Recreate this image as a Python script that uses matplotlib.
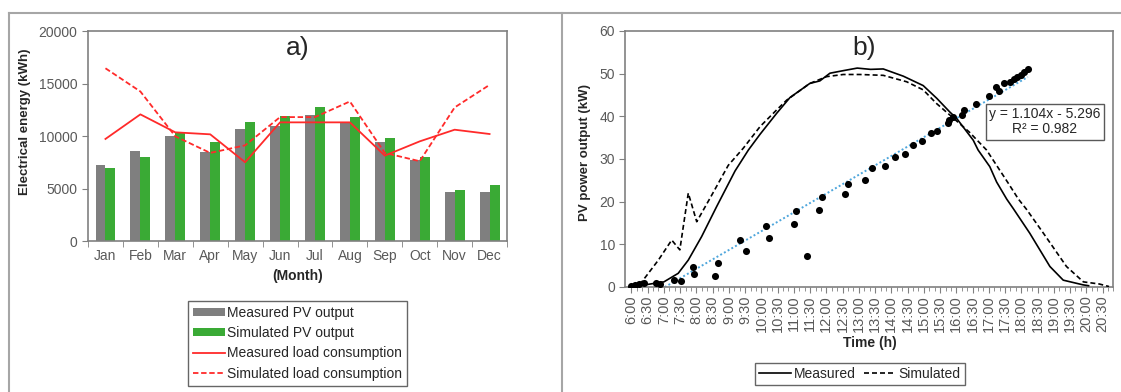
import numpy as np
import matplotlib
matplotlib.use("Agg")
import matplotlib.pyplot as plt
from matplotlib.lines import Line2D
from matplotlib.patches import Patch

plt.rcParams['font.family'] = ['Liberation Sans', 'DejaVu Sans']

# ---- panel a) monthly energy ----
months = ["Jan", "Feb", "Mar", "Apr", "May", "Jun", "Jul", "Aug", "Sep", "Oct", "Nov", "Dec"]
measured_pv = [7280, 8550, 9970, 8450, 10670, 11000, 12030, 11230, 9400, 7750, 4680, 4650]
simulated_pv = [6960, 8010, 10290, 9400, 11330, 11870, 12750, 11770, 9780, 8010, 4810, 5290]
measured_load = [9720, 12060, 10350, 10160, 7500, 11300, 11300, 11300, 8130, 9490, 10600, 10190]
simulated_load = [16450, 14240, 9970, 8390, 9110, 11800, 11800, 13290, 8390, 7600, 12720, 14870]

# ---- panel b) daily PV power ----
meas_t = [6.00, 6.50, 7.00, 7.44, 7.75, 8.16, 8.62, 9.19, 9.60, 9.96, 10.47, 10.88, 11.49,
          11.80, 12.11, 12.52, 12.95, 13.36, 13.75, 14.37, 14.98, 15.40, 15.80, 16.01, 16.52,
          16.67, 17.03, 17.24, 17.55, 17.75, 18.26, 18.88, 19.29, 19.90, 20.07]
meas_kw = [0.5, 0.6, 1.2, 3.2, 6.3, 11.8, 18.8, 27.2, 32.1, 35.8, 40.7, 44.4, 47.7,
           48.3, 50.1, 50.7, 51.3, 51.0, 51.1, 49.4, 47.2, 44.2, 41.0, 39.5, 34.4,
           32.1, 28.2, 24.6, 20.6, 18.4, 12.6, 4.8, 1.6, 0.5, 0.3]
sim_t = [6.00, 6.32, 6.83, 7.24, 7.49, 7.75, 8.01, 8.47, 8.98, 9.44, 9.96, 10.47, 10.78,
         11.49, 12.01, 12.52, 13.03, 13.75, 14.47, 14.98, 15.39, 15.80, 16.40, 16.93, 17.60,
         17.91, 18.16, 18.68, 19.39, 19.91, 20.40, 20.70]
sim_kw = [0.0, 1.2, 6.3, 11.0, 8.7, 22.0, 15.3, 21.5, 28.5, 32.5, 37.6, 41.5, 43.8,
          47.7, 49.3, 49.8, 49.8, 49.6, 48.1, 46.2, 43.0, 40.3, 36.3, 32.1, 24.3,
          20.6, 18.2, 12.6, 4.8, 1.2, 0.7, 0.1]
pts_t = [6.00, 6.11, 6.22, 6.39, 6.77, 6.88, 7.32, 7.54, 7.89, 7.94, 8.56, 8.67, 9.35, 9.52,
         10.15, 10.23, 11.00, 11.06, 11.39, 11.77, 11.88, 12.56, 12.68, 13.20, 13.39, 13.80,
         14.10, 14.41, 14.68, 14.94, 15.23, 15.40, 15.73, 15.78, 15.89, 16.17, 16.25, 16.60,
         16.99, 17.21, 17.32, 17.48, 17.65, 17.76, 17.87, 17.98, 18.09, 18.20]
pts_kw = [0.2, 0.5, 0.8, 0.9, 0.9, 0.8, 1.7, 1.3, 4.6, 3.1, 2.5, 5.6, 10.9, 8.4,
          14.4, 11.4, 14.8, 17.7, 7.3, 18.1, 21.1, 21.8, 24.2, 25.1, 27.8, 28.4,
          30.4, 31.1, 33.2, 34.2, 36.0, 36.6, 38.4, 39.2, 39.9, 40.3, 41.5, 42.9,
          44.8, 46.8, 46.0, 47.7, 48.1, 48.8, 49.2, 49.7, 50.5, 51.0]
time_ticks = [6.0, 6.5, 7.0, 7.5, 8.0, 8.5, 9.0, 9.5, 10.0, 10.5, 11.0, 11.5, 12.0, 12.5, 13.0,
              13.5, 14.0, 14.5, 15.0, 15.5, 16.0, 16.5, 17.0, 17.5, 18.0, 18.5, 19.0, 19.5,
              20.0, 20.5]
time_labels = ["6:00", "6:30", "7:00", "7:30", "8:00", "8:30", "9:00", "9:30", "10:00", "10:30",
               "11:00", "11:30", "12:00", "12:30", "13:00", "13:30", "14:00", "14:30", "15:00",
               "15:30", "16:00", "16:30", "17:00", "17:30", "18:00", "18:30", "19:00", "19:30",
               "20:00", "20:30"]

GRAY_TXT = '#595959'
SPINE = '#808080'
RED = '#ff2a2a'

fig = plt.figure(figsize=(11.21, 3.92), dpi=100)

# panel frame lines
frame_kw = dict(color='#a6a6a6', lw=1.5, transform=fig.transFigure)
fig.add_artist(Line2D([0.008, 1.0], [0.967, 0.967], **frame_kw))
fig.add_artist(Line2D([0.008, 0.008], [0.0, 0.967], **frame_kw))
fig.add_artist(Line2D([0.5013, 0.5013], [0.0, 0.967], **frame_kw))


def style_axes(ax):
    for s in ax.spines.values():
        s.set_color(SPINE)
        s.set_linewidth(1.2)
    ax.tick_params(colors=SPINE, labelcolor=GRAY_TXT, labelsize=10, direction='out', length=4)


# ---- a) ----
ax1 = fig.add_axes([0.0785, 0.3852, 0.3738, 0.5357])
style_axes(ax1)
x = np.arange(len(months))
w = 0.285
ax1.bar(x - w / 2, measured_pv, width=w, color='#7f7f7f', zorder=2)
ax1.bar(x + w / 2, simulated_pv, width=w, color='#3aaa35', zorder=2)
ax1.plot(x, measured_load, color=RED, lw=1.3, zorder=3)
ax1.plot(x, simulated_load, color=RED, lw=1.3, dashes=(3, 1.5), zorder=3)
ax1.set_xlim(-0.5, len(months) - 0.5)
ax1.set_ylim(0, 20000)
ax1.set_yticks([0, 5000, 10000, 15000, 20000])
ax1.set_xticks(x)
ax1.set_xticklabels(months)
ax1.tick_params(axis='x', length=0, pad=6)
ax1.set_xticks(np.arange(-0.5, len(months), 1), minor=True)
ax1.tick_params(axis='x', which='minor', length=4, color=SPINE)
ax1.set_ylabel('Electrical energy (kWh)', fontsize=9.5, fontweight='bold', color='#262626')
ax1.yaxis.set_label_coords(-0.136, 0.57)
ax1.set_xlabel('(Month)', fontsize=10, fontweight='bold', color='#262626', labelpad=4)
ax1.text(0.5, 0.92, 'a)', transform=ax1.transAxes, fontsize=19, ha='center', va='center',
         color='#262626')

handles1 = [Patch(facecolor='#7f7f7f', label='Measured PV output'),
            Patch(facecolor='#3aaa35', label='Simulated PV output'),
            Line2D([], [], color=RED, lw=1.3, label='Measured load consumption'),
            Line2D([], [], color=RED, lw=1.3, dashes=(3, 1.5), label='Simulated load consumption')]
leg1 = fig.legend(handles=handles1, loc='upper center', bbox_to_anchor=(0.2654, 0.232),
                  fontsize=10, frameon=True, fancybox=False, edgecolor='#404040',
                  handlelength=2.3, handleheight=0.5, handletextpad=0.2, labelspacing=0.45,
                  borderpad=0.35, borderaxespad=0)
leg1.get_frame().set_linewidth(1.0)
for t in leg1.get_texts():
    t.set_color('#262626')

# ---- b) ----
ax2 = fig.add_axes([0.5579, 0.2679, 0.4353, 0.6531])
style_axes(ax2)
ax2.plot(meas_t, meas_kw, color='black', lw=1.2, zorder=3)
ax2.plot(sim_t, sim_kw, color='black', lw=1.2, dashes=(3, 1.8), zorder=3)
coef = np.polyfit(pts_t, pts_kw, 1)
fit_x = np.array([min(pts_t), max(pts_t)])
ax2.plot(fit_x, np.polyval(coef, fit_x), color='#4ea6dc', lw=1.4, ls=(0, (1, 1.2)), zorder=2)
ax2.scatter(pts_t, pts_kw, s=26, color='black', zorder=4, linewidths=0)
ax2.set_xlim(5.815, 20.83)
ax2.set_ylim(0, 60)
ax2.set_yticks([0, 10, 20, 30, 40, 50, 60])
ax2.set_xticks(time_ticks)
ax2.set_xticklabels(time_labels, rotation=90, fontsize=10.5)
ax2.set_xticks(np.arange(6.0, 20.84, 1 / 6), minor=True)
ax2.tick_params(axis='x', which='minor', length=3, color=SPINE)
ax2.tick_params(axis='x', which='major', pad=2)
ax2.set_ylabel('PV power output (kW)', fontsize=9.5, fontweight='bold', color='#262626')
ax2.yaxis.set_label_coords(-0.07, 0.527)
ax2.set_xlabel('Time (h)', fontsize=10, fontweight='bold', color='#262626', labelpad=3)
ax2.text(0.49, 0.934, 'b)', transform=ax2.transAxes, fontsize=19, ha='center', va='center',
         color='#262626')
ax2.text(0.86, 0.645, 'y = 1.104x - 5.296\nR\u00b2 = 0.982', transform=ax2.transAxes,
         fontsize=10, ha='center', va='center', color='#262626', linespacing=1.1,
         bbox=dict(boxstyle='square,pad=0.25', facecolor='white', edgecolor='#595959', lw=1.0))

handles2 = [Line2D([], [], color='black', lw=1.2, label='Measured'),
            Line2D([], [], color='black', lw=1.2, dashes=(3, 1.8), label='Simulated')]
leg2 = fig.legend(handles=handles2, loc='upper center', bbox_to_anchor=(0.767, 0.074),
                  ncol=2, fontsize=10, frameon=True, fancybox=False, edgecolor='#404040',
                  handlelength=2.3, handletextpad=0.2, columnspacing=0.6,
                  borderpad=0.3, borderaxespad=0)
leg2.get_frame().set_linewidth(1.0)
for t in leg2.get_texts():
    t.set_color('#262626')

fig.savefig('out.png', dpi=100, facecolor='white')
